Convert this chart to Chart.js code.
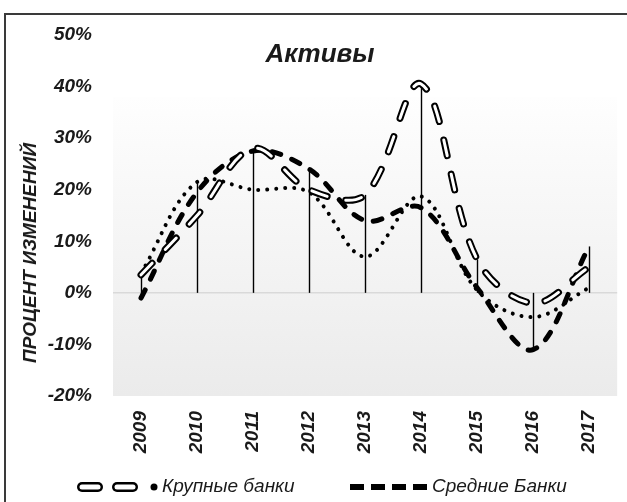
<!DOCTYPE html>
<html>
<head>
<meta charset="utf-8">
<script src="https://cdn.jsdelivr.net/npm/chart.js@4"></script>
<style>
body{margin:0;overflow:hidden;background:#fff}
#wrap{position:relative;width:627px;height:502px;overflow:hidden}
#frame{position:absolute;left:4px;top:13px;width:700px;height:600px;border:2px solid #3a3a3a}
canvas{position:absolute;left:0;top:0}
.txt{position:absolute;color:#1a1a1a;font-family:"Liberation Sans",Arial,sans-serif;white-space:nowrap}
#title{left:0;width:640px;top:40px;text-align:center;font-size:26px;line-height:26px;font-style:italic;font-weight:bold}
#ytitle{left:30px;top:253px;font-size:19px;font-style:italic;font-weight:bold;transform:translate(-50%,-50%) rotate(-90deg)}
.leg{top:476px;font-size:19px;line-height:20px;font-style:italic}
svg{position:absolute}
</style>
</head>
<body>
<div id="wrap">
<div id="frame"></div>
<canvas id="chart" width="627" height="502"></canvas>
<div class="txt" id="title">Активы</div>
<div class="txt" id="ytitle">ПРОЦЕНТ ИЗМЕНЕНИЙ</div>
<svg style="left:70px;top:477px" width="92" height="20">
<line x1="12" y1="10" x2="28" y2="10" stroke="#000" stroke-width="10" stroke-linecap="round"/>
<line x1="12" y1="10" x2="28" y2="10" stroke="#fff" stroke-width="5" stroke-linecap="round"/>
<line x1="47" y1="10" x2="63" y2="10" stroke="#000" stroke-width="10" stroke-linecap="round"/>
<line x1="47" y1="10" x2="63" y2="10" stroke="#fff" stroke-width="5" stroke-linecap="round"/>
<circle cx="84" cy="10" r="3.5" fill="#000"/>
</svg>
<div class="txt leg" style="left:162px">Крупные банки</div>
<svg style="left:348px;top:477px" width="82" height="20">
<line x1="2" y1="10" x2="80" y2="10" stroke="#000" stroke-width="6" stroke-dasharray="14 7"/>
</svg>
<div class="txt leg" style="left:432px">Средние Банки</div>
</div>
<script>
const years=["2009","2010","2011","2012","2013","2014","2015","2016","2017"]
const large=[3.5,15,28,20,19,40.5,6.5,-2,5]
const medium=[-1,19.5,27.5,24,14,16.5,1,-11,9]
const dotted=[3.8,21.5,20,19.5,7,18.7,0.5,-4.7,1]

const font={family:"'Liberation Sans', Arial, sans-serif",size:19,style:"italic",weight:"bold"}

// faint gradient fill of the plot area
const plotBg={
id:"plotBg",
beforeDraw(chart){
const {ctx,chartArea:a,scales:{y}}=chart
const top=y.getPixelForValue(38)
const g=ctx.createLinearGradient(0,top,0,a.bottom)
g.addColorStop(0,"#fefefe")
g.addColorStop(1,"#ebebeb")
ctx.save()
ctx.fillStyle=g
ctx.fillRect(a.left,top,a.right-a.left,a.bottom-top)
ctx.restore()
}
}

// vertical drop lines from zero to each point
const dropLines={
id:"dropLines",
beforeDatasetsDraw(chart){
const {ctx,scales:{x,y}}=chart
ctx.save()
ctx.strokeStyle="#000"
ctx.lineWidth=1.4
years.forEach((yr,i)=>{
const vals=[large[i],medium[i],dotted[i]]
const hi=Math.max(0,...vals),lo=Math.min(0,...vals)
const px=Math.round(x.getPixelForValue(i))+0.5
ctx.beginPath()
ctx.moveTo(px,y.getPixelForValue(lo))
ctx.lineTo(px,y.getPixelForValue(hi))
ctx.stroke()
})
ctx.restore()
}
}

const common={pointRadius:0,tension:0.35,fill:false,borderCapStyle:"round"}

new Chart(document.getElementById("chart"),{
type:"line",
data:{
labels:years,
datasets:[
{...common,label:"Крупные банки",data:large,borderColor:"#fff",borderWidth:3,borderDash:[16,19],order:0},
{...common,label:"Крупные банки",data:large,borderColor:"#000",borderWidth:7,borderDash:[16,19],order:1},
{...common,label:"Средние Банки",data:medium,borderColor:"#000",borderWidth:5,borderDash:[9,12],order:2},
{...common,label:"",data:dotted,borderColor:"#000",borderWidth:4,borderDash:[0.01,9],order:3}
]
},
options:{
responsive:false,
animation:false,
layout:{padding:{left:0,right:1,top:35,bottom:44}},
plugins:{legend:{display:false},tooltip:{enabled:false}},
scales:{
x:{
offset:true,
grid:{display:false,drawTicks:false},
border:{display:false},
ticks:{minRotation:90,maxRotation:90,padding:15,color:"#1a1a1a",font},
afterFit(s){s.height=62}
},
y:{
min:-20,max:50,
grid:{color:c=>c.tick.value===0?"#d9d9d9":"rgba(0,0,0,0)",lineWidth:1.5,drawTicks:false},
border:{display:false},
ticks:{stepSize:10,padding:21,color:"#1a1a1a",font,callback:v=>v+"%"},
afterFit(s){s.width=113}
}
}
},
plugins:[plotBg,dropLines]
})
</script>
</body>
</html>
